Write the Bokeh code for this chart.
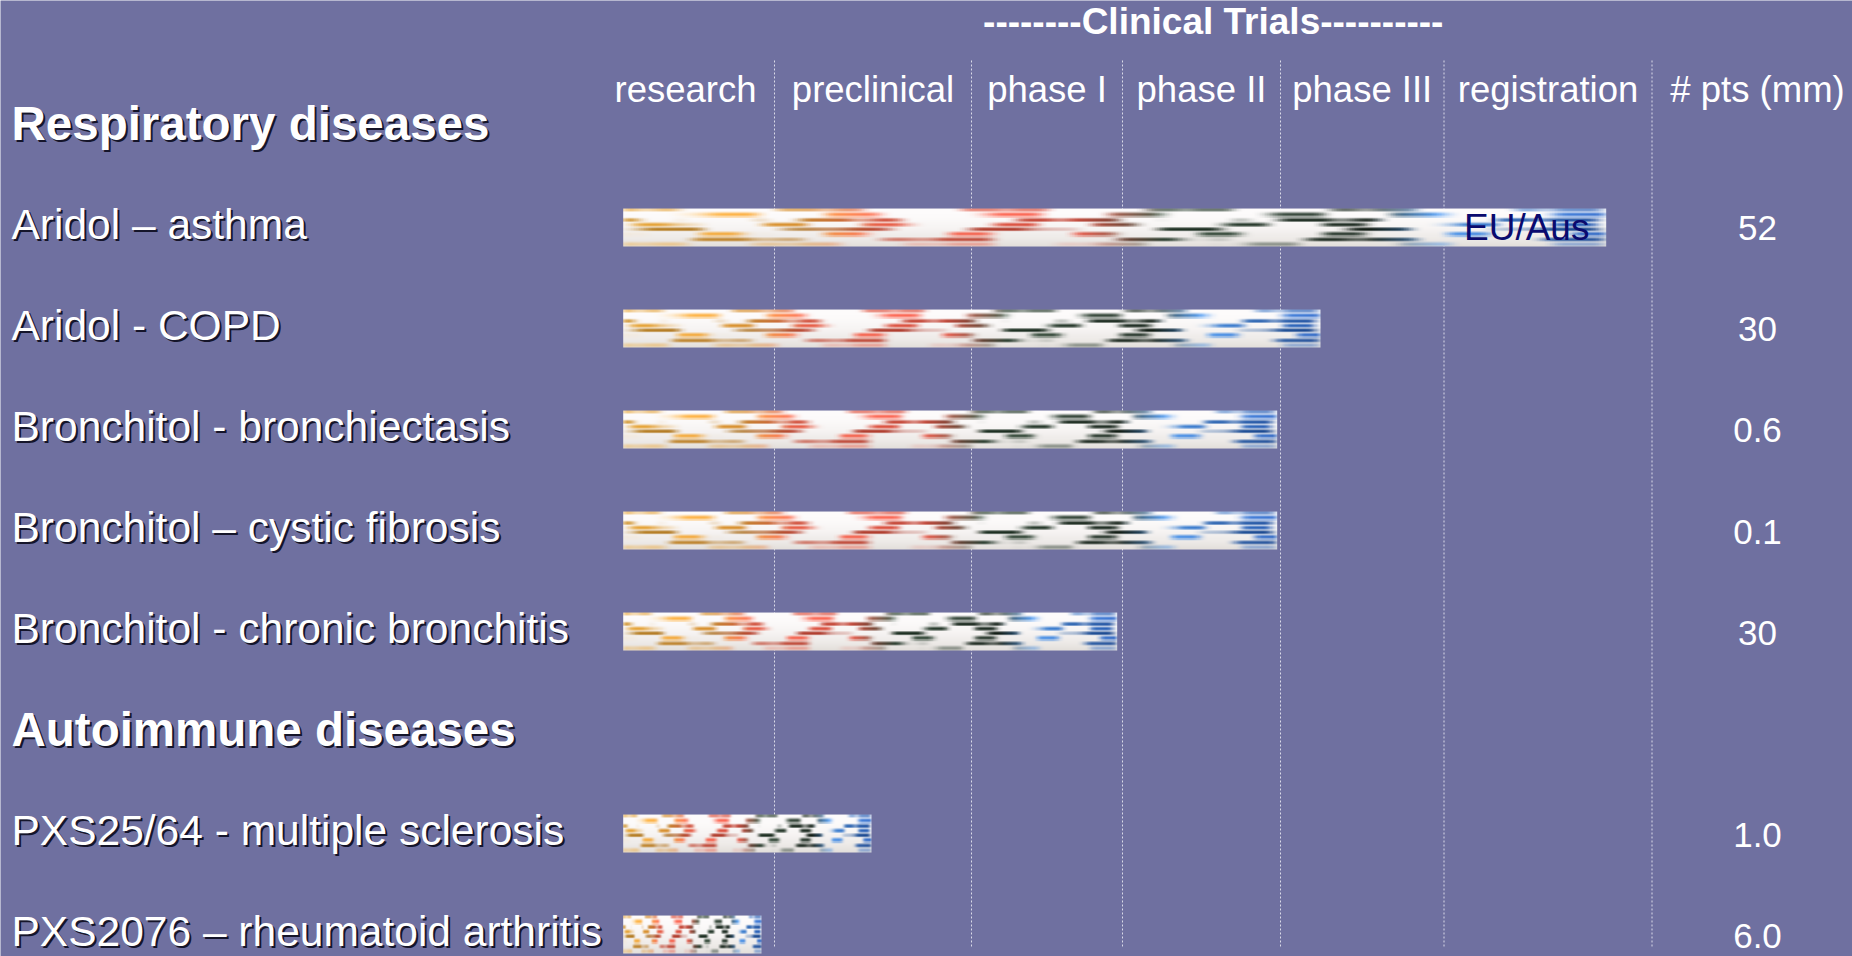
import numpy as np
from bokeh.plotting import figure
from bokeh.models import ColumnDataSource, Range1d
from bokeh.core.properties import value
from bokeh.embed import file_html
from bokeh.resources import INLINE

# ---------------- data ----------------
title_text = "--------Clinical Trials----------"
groups = ["Respiratory diseases", "Autoimmune diseases"]
products = [
    "Aridol \u2013 asthma",
    "Aridol - COPD",
    "Bronchitol - bronchiectasis",
    "Bronchitol \u2013 cystic fibrosis",
    "Bronchitol - chronic bronchitis",
    "PXS25/64 - multiple sclerosis",
    "PXS2076 \u2013 rheumatoid arthritis",
]
product_group = [0, 0, 0, 0, 0, 1, 1]
stages = ["research", "preclinical", "phase I", "phase II", "phase III", "registration"]
# stage boundaries on the progress axis (columns are not equally wide on the slide)
stage_edges = [0.0, 17.8, 37.5, 52.6, 68.4, 84.75, 105.55]
bar_start = 2.67
progress = [100.97, 72.4, 68.07, 68.07, 52.07, 27.5, 16.5]
patients_header = "# pts (mm)"
patients = ["52", "30", "0.6", "0.1", "30", "1.0", "6.0"]
notes = ["EU/Aus", "", "", "", "", "", ""]

# ---------------- layout / style ----------------
BG = "#6F70A0"
FONT = value("Liberation Sans")
W, H = 1852, 956

head_rows, prod_rows = [], []
r = 0
cur = None
for g in product_group:
    if g != cur:
        head_rows.append(r)
        r += 1
        cur = g
    prod_rows.append(r)
    r += 1

head_y = [-k for k in head_rows]
prod_y = [-k for k in prod_rows]
bar_h = 0.376
bar_shift = 0.03


def pill_texture(h=36, w=600):
    f = np.linspace(0.0, 1.0, w)
    ramp_pos = [0.00, 0.18, 0.26, 0.46, 0.55, 0.76, 0.83, 1.00]
    ramp_rgb = np.array([
        [232, 164, 48], [214, 138, 36], [232, 86, 62], [214, 68, 52],
        [34, 58, 40], [18, 32, 22], [58, 130, 214], [28, 84, 176],
    ], float)
    base = np.stack([np.interp(f, ramp_pos, ramp_rgb[:, c]) for c in range(3)], axis=1)
    f1 = [6.3, 4.7, 7.9, 5.5, 8.6, 4.1, 6.9, 5.2]
    p1 = [0.13, 0.71, 0.42, 0.05, 0.88, 0.36, 0.59, 0.24]
    f2 = [13.1, 11.4, 15.7, 9.8, 12.6, 14.3, 10.5, 16.2]
    p2 = [0.50, 0.20, 0.80, 0.65, 0.10, 0.35, 0.90, 0.45]
    amp = [0.45, 0.95, 0.9, 1.0, 0.95, 1.0, 0.9, 0.7]
    shade = [1.05, 0.85, 1.1, 0.8, 1.0, 0.9, 1.15, 1.0]
    lanes = len(f1)
    lane_h = h / lanes
    kern = np.ones(9) / 9.0
    img = np.empty((h, w, 3))
    bg_bot = np.array([228, 224, 220.0])
    bg_top = np.array([254, 252, 252.0])
    for row in range(h):
        t = row / (h - 1)
        bg = bg_bot * (1 - t) ** 2 + bg_top * (1 - (1 - t) ** 2)
        lane = min(int(row // lane_h), lanes - 1)
        pos_in = (row - lane * lane_h + 0.5) / lane_h
        vprof = np.exp(-((pos_in - 0.5) / 0.45) ** 2)
        s = 0.65 * np.sin(2 * np.pi * (f * f1[lane] + p1[lane])) \
            + 0.35 * np.sin(2 * np.pi * (f * f2[lane] + p2[lane]))
        inten = np.clip((s + 0.12) * 1.7, 0, 1)
        inten = np.convolve(inten, kern, mode="same")
        inten = inten * vprof * amp[lane]
        col = np.clip(base * shade[lane], 0, 255)
        img[row] = bg[None, :] * (1 - inten[:, None]) + col * inten[:, None]
    out = np.zeros((h, w), dtype=np.uint32)
    view = out.view(dtype=np.uint8).reshape((h, w, 4))
    view[:, :, :3] = np.clip(img, 0, 255).astype(np.uint8)
    view[:, :, 3] = 255
    return out


tex = pill_texture()

p = figure(width=W, height=H, output_backend="svg", toolbar_location=None,
           x_range=Range1d(-59.6, 125.6), y_range=Range1d(-8.2475, 1.2178),
           x_axis_type=None, y_axis_type=None, min_border=0)
p.background_fill_color = BG
p.border_fill_color = BG
p.outline_line_color = None
p.grid.visible = False

# dashed stage separators
n_sep = len(stage_edges) - 1
p.segment(x0=stage_edges[1:], x1=stage_edges[1:],
          y0=[0.624] * n_sep, y1=[-8.168] * n_sep,
          line_color="#E6E6F0", line_width=1, line_dash="2 2", line_alpha=0.9)

# bars
bars = ColumnDataSource(dict(
    image=[tex] * len(products),
    x=[bar_start] * len(products),
    y=[yy - bar_shift - bar_h / 2 for yy in prod_y],
    dw=[pv - bar_start for pv in progress],
    dh=[bar_h] * len(products),
))
p.image_rgba(image="image", x="x", y="y", dw="dw", dh="dh", source=bars)

# notes inside bars
note_idx = [i for i, n in enumerate(notes) if n]
p.text(x=[stage_edges[5]] * len(note_idx), y=[prod_y[i] - bar_shift for i in note_idx],
       text=[notes[i] for i in note_idx], x_offset=20,
       text_font=FONT, text_font_size="37px", text_color="#0A0A6E",
       text_align="left", text_baseline="middle")

# title and stage headers
p.text(x=[(stage_edges[1] + stage_edges[-1]) / 2], y=[1.01], text=[title_text],
       text_font=FONT, text_font_style="bold", text_font_size="37px",
       text_color="white", text_align="center", text_baseline="middle")
centers = [(a + b) / 2 for a, b in zip(stage_edges[:-1], stage_edges[1:])]
pts_x = 116.1
p.text(x=centers + [pts_x], y=[0.337] * (len(stages) + 1), text=stages + [patients_header],
       text_font=FONT, text_font_size="36.5px", text_color="white",
       text_align="center", text_baseline="middle")

# left labels with drop shadow
label_x = -58.5
for dx, col in ((2, "#15152A"), (0, "white")):
    p.text(x=[label_x] * len(groups), y=head_y, text=groups, x_offset=dx, y_offset=dx,
           text_font=FONT, text_font_style="bold", text_font_size="47.5px",
           text_color=col, text_align="left", text_baseline="middle")
    p.text(x=[label_x] * len(products), y=prod_y, text=products, x_offset=dx, y_offset=dx,
           text_font=FONT, text_font_size="42.5px",
           text_color=col, text_align="left", text_baseline="middle")

# patient numbers
p.text(x=[pts_x] * len(patients), y=prod_y, text=patients, y_offset=4,
       text_font=FONT, text_font_size="35px", text_color="white",
       text_align="center", text_baseline="middle")

open("out.html", "w").write(file_html(p, INLINE))
